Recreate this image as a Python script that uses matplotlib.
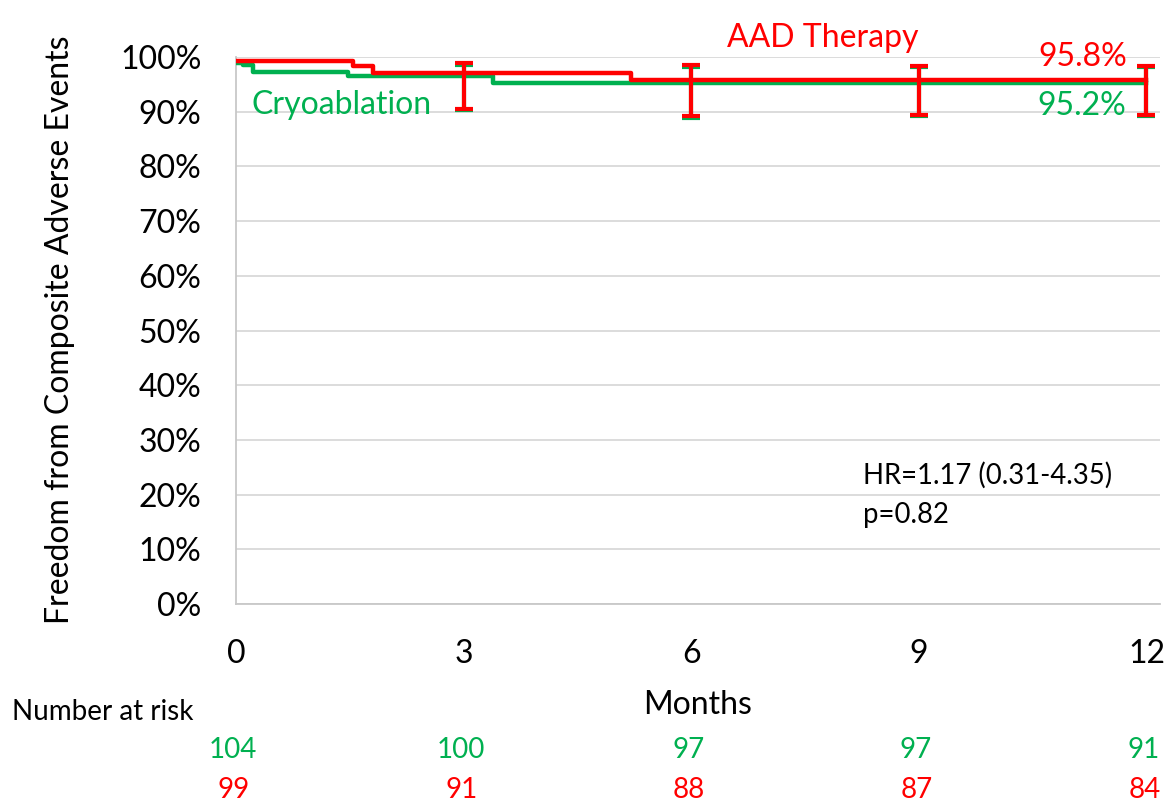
import numpy as np
import matplotlib
matplotlib.use('Agg')
import matplotlib.pyplot as plt
from matplotlib.transforms import offset_copy

plt.rcParams['font.family'] = ['Lato', 'DejaVu Sans']

# Kaplan-Meier style curves (months, % event free)
aad_t = [0, 1.54, 1.81, 5.20, 12]
aad_s = [99.3, 98.4, 97.1, 95.8, 95.8]
cryo_t = [0, 0.09, 0.22, 1.48, 3.39, 12]
cryo_s = [98.9, 98.5, 97.3, 96.5, 95.2, 95.2]

# confidence intervals
err_t = [3, 6, 9, 12]
err_mid = [97.1, 95.8, 95.8, 95.8]
err_hi = [98.9, 98.5, 98.4, 98.4]
err_lo = [90.5, 89.2, 89.4, 89.4]

months = [0, 3, 6, 9, 12]
risk_cryo = [104, 100, 97, 97, 91]
risk_aad = [99, 91, 88, 87, 84]

RED = '#ff0000'
GREEN = '#00b050'
FS = 23

fig = plt.figure(figsize=(11.72, 8.06), dpi=100)
ax = fig.add_axes([0.2014, 0.2506, 0.7884, 0.6787])

ax.step(cryo_t, cryo_s, where='post', color=GREEN, lw=3.2, zorder=3)
ax.step(aad_t, aad_s, where='post', color=RED, lw=3.2, zorder=4)

mid = np.array(err_mid)
yerr = [mid - np.array(err_lo), np.array(err_hi) - mid]
ax.errorbar(err_t, mid, yerr=yerr, fmt='none', ecolor=GREEN, elinewidth=3,
            capsize=6.5, capthick=3, zorder=4,
            transform=offset_copy(ax.transData, fig=fig, x=0, y=-1.5, units='dots'))
ax.errorbar(err_t, mid, yerr=yerr, fmt='none', ecolor=RED, elinewidth=3,
            capsize=6.5, capthick=3, zorder=5)

ax.set_xlim(0, 12.18)
ax.set_ylim(0, 100)
ax.set_xticks(months)
ax.set_yticks(np.arange(0, 101, 10))
ax.set_yticklabels([f'{v}%' for v in range(0, 101, 10)])
ax.tick_params(length=0, labelsize=FS)
ax.tick_params(axis='y', pad=25)
ax.tick_params(axis='x', pad=25)
ax.grid(axis='y', color='#d9d9d9', lw=1.3)
ax.set_axisbelow(True)
for s in ['top', 'right']:
    ax.spines[s].set_visible(False)
for s in ['left', 'bottom']:
    ax.spines[s].set_color('#c8c8c8')
    ax.spines[s].set_linewidth(1.3)

fig.text(60 / 1172, 1 - 330 / 806, 'Freedom from Composite Adverse Events',
         fontsize=FS, rotation=90, ha='center', va='center')
ax.set_xlabel('Months', fontsize=FS, va='center')
ax.xaxis.set_label_coords(0.5, -101 / 547)

ax.text(7.73, 103.5, 'AAD Therapy', color=RED, fontsize=FS, ha='center', va='center', clip_on=False)
ax.text(11.75, 100.0, '95.8%', color=RED, fontsize=FS, ha='right', va='center')
ax.text(11.73, 91.0, '95.2%', color=GREEN, fontsize=FS, ha='right', va='center')
ax.text(0.21, 91.2, 'Cryoablation', color=GREEN, fontsize=FS, ha='left', va='center')
ax.text(8.26, 23.6, 'HR=1.17 (0.31-4.35)', fontsize=19.8, ha='left', va='center')
ax.text(8.26, 16.3, 'p=0.82', fontsize=19.8, ha='left', va='center')

# number at risk table
fig.text(12 / 1172, 1 - 712 / 806, 'Number at risk', fontsize=20, ha='left', va='center')
for m, nc, na in zip(months, risk_cryo, risk_aad):
    ax.annotate(str(nc), xy=(m, 0), xycoords='data', xytext=(-3, -146),
                textcoords='offset pixels', color=GREEN, fontsize=20,
                ha='center', va='center', annotation_clip=False)
    ax.annotate(str(na), xy=(m, 0), xycoords='data', xytext=(-2, -186),
                textcoords='offset pixels', color=RED, fontsize=20,
                ha='center', va='center', annotation_clip=False)

fig.savefig('out.png', dpi=100)
